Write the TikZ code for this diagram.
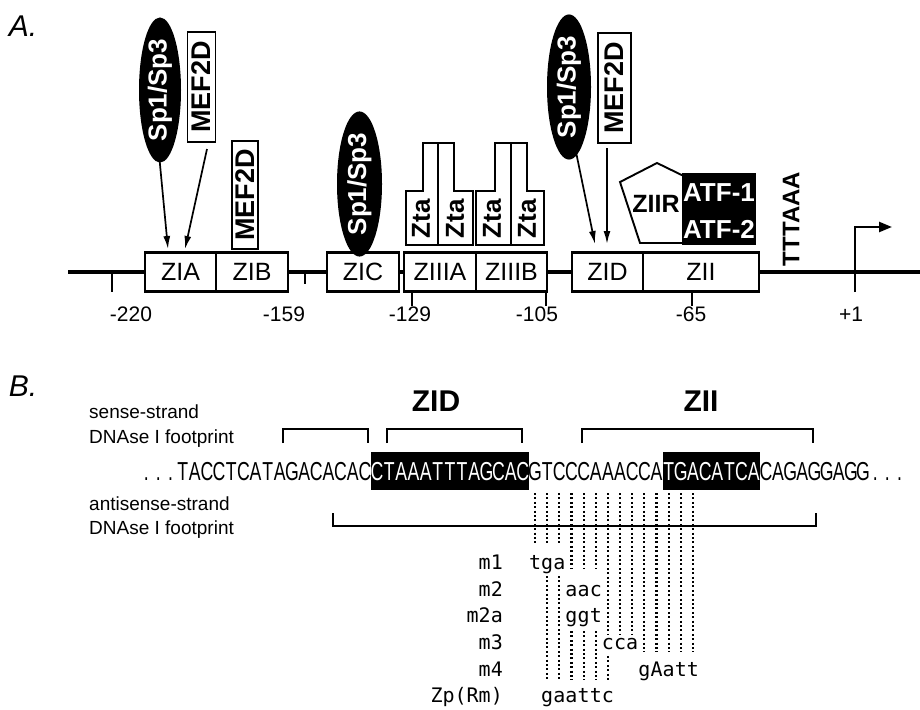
\documentclass[tikz,border=0pt]{standalone}
\usepackage{fontspec}
\setmainfont{Liberation Sans}
\newfontfamily\seqfont[FakeStretch=0.68]{Liberation Sans}
\newfontfamily\mfont{DejaVu Sans Mono}
\usetikzlibrary{arrows.meta,shapes.geometric}
\newcommand\fs[1]{\fontsize{#1}{#1}\selectfont}
\newcommand\seqrun[3]{\foreach \ch [count=\k from #1] in {#3} {\node[seqch,text=#2] (s\k) at ({176.6+(\k+0.5)*12.15},480) {\ch};}}
\newcommand\mutrun[3]{\foreach \ch [count=\k from #1] in {#3} {\node[mutch] (mu#2x\k) at ({176.6+(\k+0.5)*12.15},#2) {\ch};}}
\tikzset{
 cell/.style={draw, line width=2.7pt, fill=white, minimum height=39pt, inner sep=0pt, font=\fs{25}},
 mef/.style={draw, line width=1.9pt, fill=white, rotate=90, inner sep=0pt, font=\bfseries\fs{27}},
 sp/.style={ellipse, fill=black, text=white, rotate=90, inner sep=0pt, font=\bfseries\fs{26}},
 zta/.style={draw, line width=1.9pt, fill=white, line join=miter},
 ztatext/.style={rotate=90, inner sep=0pt, font=\bfseries\fs{26}},
 arr/.style={line width=1.7pt, -{Latex[length=13pt,width=7pt]}},
 tickline/.style={line width=2.2pt},
 poslab/.style={font=\fs{21}},
 seqch/.style={anchor=base, inner sep=0pt, font=\seqfont\fs{26}},
 mutch/.style={anchor=base, inner sep=0pt, font=\mfont\fs{20}},
 mlab/.style={anchor=base east, inner sep=0pt, font=\mfont\fs{20}},
 side/.style={anchor=west, inner sep=0pt, font=\fs{19}},
 brk/.style={line width=2.2pt},
 dotl/.style={line width=2.2pt, dash pattern=on 2pt off 2.4pt},
 head/.style={font=\bfseries\fs{30}},
 panel/.style={font=\itshape\fs{30}},
}
\begin{document}
\begin{tikzpicture}[x=1pt,y=-1pt]
\useasboundingbox (0,0) rectangle (920,709);
\fill[white] (0,0) rectangle (920,709);
% ---------------- Panel A ----------------
\node[panel] (pa) at (23,26) {A.};
\draw[line width=3.2pt] (68,272) -- (920,272);
% ticks
\draw[tickline] (112,272) -- (112,292);
\draw[tickline] (305,272) -- (305,284);
\draw[tickline] (412,290) -- (412,306);
\draw[tickline] (546,290) -- (546,306);
\draw[tickline] (692,291) -- (692,306);
% boxes
\node[cell, minimum width=71pt] (zia) at (180.5,272) {ZIA};
\node[cell, minimum width=72pt] (zib) at (252,272) {ZIB};
\node[cell, minimum width=72pt] (zic) at (363,272) {ZIC};
\node[cell, minimum width=72pt] (ziiia) at (440,272) {ZIIIA};
\node[cell, minimum width=71pt] (ziiib) at (511.5,272) {ZIIIB};
\node[cell, minimum width=71pt] (zid) at (607.5,272) {ZID};
\node[cell, minimum width=116pt] (zii) at (701,272) {ZII};
% position labels
\node[poslab] (l220) at (131,314) {-220};
\node[poslab] (l159) at (284,314) {-159};
\node[poslab] (l129) at (410,314) {-129};
\node[poslab] (l105) at (537,314) {-105};
\node[poslab] (l65) at (691,314) {-65};
\node[poslab] (l1) at (851,314) {+1};
% transcription start
\coordinate (tssb) at (855,292);
\coordinate (tsst) at (855,227);
\coordinate (tssh) at (892,227);
\draw[line width=2.4pt, -{Triangle[length=13pt,width=10pt]}] (tssb) -- (tsst) -- (tssh);
% factors over ZIA/ZIB
\node[sp, minimum width=120pt, minimum height=42pt] (spa) at (160,90) {Sp1/Sp3};
\node[mef, minimum width=110pt, minimum height=28pt] (mefa) at (201.5,87) {MEF2D};
\node[mef, minimum width=108pt, minimum height=26pt] (mefb) at (245,195) {MEF2D};
\coordinate (spas) at (159,154);
\coordinate (spae) at (168,249);
\coordinate (mefas) at (207,149);
\coordinate (mefae) at (185,249);
\draw[arr] (spas) -- (spae);
\draw[arr] (mefas) -- (mefae);
% ZIC
\node[sp, minimum width=124pt, minimum height=45pt] (spb) at (359.5,184) {Sp1/Sp3};
% Zta dimers
\draw[zta] (406,245) -- (406,191) -- (423,191) -- (423,143) -- (438,143) -- (438,245) -- cycle;
\draw[zta] (438,245) -- (438,143) -- (454,143) -- (454,191) -- (473,191) -- (473,245) -- cycle;
\draw[zta] (476,245) -- (476,191) -- (495,191) -- (495,143) -- (511,143) -- (511,245) -- cycle;
\draw[zta] (511,245) -- (511,143) -- (527,143) -- (527,191) -- (544,191) -- (544,245) -- cycle;
\node[ztatext] (zta1) at (421,219) {Zta};
\node[ztatext] (zta2) at (455,219) {Zta};
\node[ztatext] (zta3) at (492,219) {Zta};
\node[ztatext] (zta4) at (527,219) {Zta};
% factors over ZID/ZII
\node[sp, minimum width=120pt, minimum height=44pt] (spc) at (569,87) {Sp1/Sp3};
\node[mef, minimum width=110pt, minimum height=33pt] (mefc) at (614.5,88) {MEF2D};
\coordinate (spcs) at (576,152);
\coordinate (spce) at (595,244);
\coordinate (mefcs) at (607,148);
\coordinate (mefce) at (607,244);
\draw[arr] (spcs) -- (spce);
\draw[arr] (mefcs) -- (mefce);
% ZIIR pentagon and ATF
\draw[line width=1.9pt, fill=white, line join=miter] (620,182) -- (657,163) -- (696,182) -- (686,243) -- (640,243) -- cycle;
\node[font=\bfseries\fs{25}, inner sep=0pt] (ziir) at (656,204) {ZIIR};
\node[fill=black, minimum width=74pt, minimum height=72pt, inner sep=0pt] (atf) at (719,209) {};
\node[font=\bfseries\fs{26}, text=white, inner sep=0pt] (atf1) at (719,193) {ATF-1};
\node[font=\bfseries\fs{26}, text=white, inner sep=0pt] (atf2) at (719,229) {ATF-2};
\node[rotate=90, font=\bfseries\fs{24}, inner sep=0pt] (tata) at (791,219) {TTTAAA};
% ---------------- Panel B ----------------
\node[panel] (pb) at (23,386) {B.};
\node[head] (hzid) at (436,401) {ZID};
\node[head] (hzii) at (701,401) {ZII};
\node[side] (ss1) at (89,412) {sense-strand};
\node[side] (ss2) at (89,439) {DNAse I footprint};
\node[side] (as1) at (89,504) {antisense-strand};
\node[side] (as2) at (89,530) {DNAse I footprint};
\draw[brk] (283,443) -- (283,429) -- (368,429) -- (368,443);
\draw[brk] (387,443) -- (387,429) -- (522,429) -- (522,443);
\draw[brk] (582,443) -- (582,429) -- (813,429) -- (813,443);
\draw[brk] (333,513) -- (333,526) -- (816,526) -- (816,513);
\node[fill=black, minimum width=158pt, minimum height=38pt, inner sep=0pt] (bzid) at (450,471) {};
\node[fill=black, minimum width=97.2pt, minimum height=38pt, inner sep=0pt] (bzii) at (711.2,471) {};
\seqrun{-3}{black}{.,.,.}
\seqrun{0}{black}{T,A,C,C,T,C,A,T,A,G,A,C,A,C,A,C}
\seqrun{16}{white}{C,T,A,A,A,T,T,T,A,G,C,A,C}
\seqrun{29}{black}{G,T,C,C,C,A,A,A,C,C,A}
\seqrun{40}{white}{T,G,A,C,A,T,C,A}
\seqrun{48}{black}{C,A,G,A,G,G,A,G,G}
\seqrun{57}{black}{.,.,.}
% mutation labels
\node[mlab] (lm1) at (503,569) {m1};
\node[mlab] (lm2) at (503,596) {m2};
\node[mlab] (lm2a) at (503,622) {m2a};
\node[mlab] (lm3) at (503,649) {m3};
\node[mlab] (lm4) at (503,676) {m4};
\node[mlab] (lzp) at (503,702) {Zp(Rm)};
\mutrun{29}{569}{t,g,a}
\mutrun{32}{596}{a,a,c}
\mutrun{32}{622}{g,g,t}
\mutrun{35}{649}{c,c,a}
\mutrun{38}{676}{g,A,a,t,t}
\mutrun{30}{702}{g,a,a,t,t,c}
% dotted guides
\foreach \i in {29,30,31} \draw[dotl] (s\i |- 0,493) -- (s\i |- 0,543);
\foreach \i in {30,31} \draw[dotl] (s\i |- 0,576) -- (s\i |- 0,680);
\foreach \i in {32,33,34} {\draw[dotl] (s\i |- 0,493) -- (s\i |- 0,568);
  \draw[dotl] (s\i |- 0,631) -- (s\i |- 0,680);}
\foreach \i in {35,36,37} \draw[dotl] (s\i |- 0,493) -- (s\i |- 0,634);
\draw[dotl] (s35 |- 0,656) -- (s35 |- 0,680);
\foreach \i in {38,...,42} \draw[dotl] (s\i |- 0,493) -- (s\i |- 0,652);
\end{tikzpicture}
\end{document}
